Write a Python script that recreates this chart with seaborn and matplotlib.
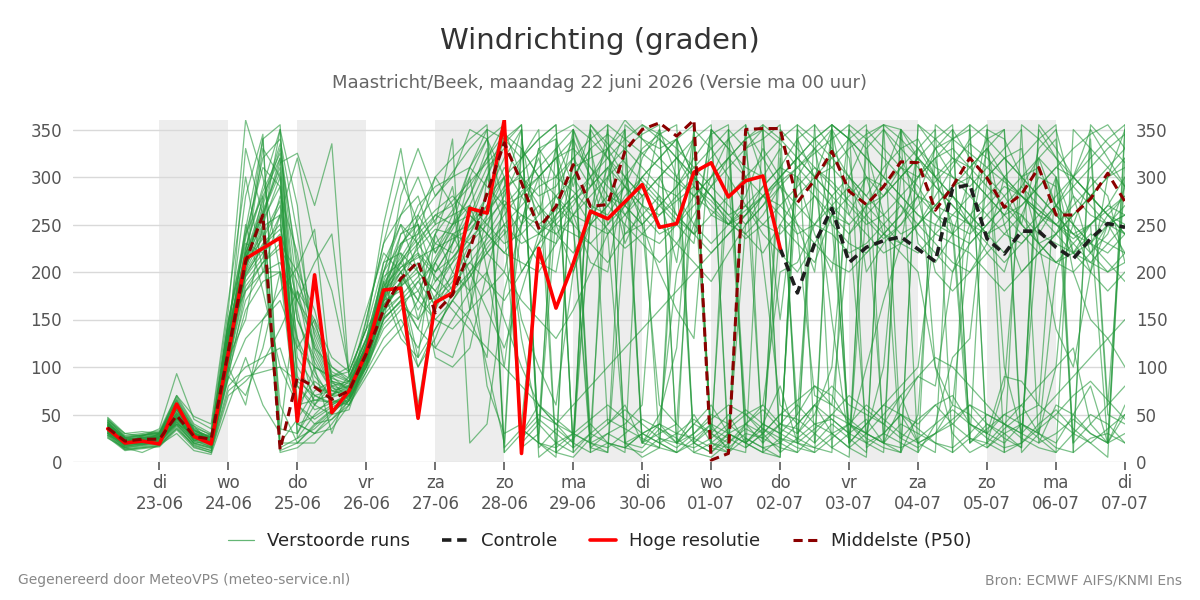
import matplotlib
matplotlib.use("Agg")
import matplotlib.pyplot as plt
from matplotlib.lines import Line2D
import numpy as np
import pandas as pd
import seaborn as sns

# 6-uurlijkse tijdstappen: 22-06 06:00 t/m 07-07 00:00
tijden = pd.date_range("2026-06-22 06:00", "2026-07-07 00:00", freq="6h")

hoge_resolutie = [
    35, 20, 22, 19, 61, 27, 19, 115, 214, 225,
    236, 43, 197, 52, 75, 115, 181, 183, 46, 168,
    178, 267, 262, 360, 9, 225, 162, 209, 264, 256,
    274, 292, 247, 251, 305, 315, 279, 296, 301, 225,
] + [np.nan] * 20

controle = [np.nan] * 39 + [
    225, 178, 230, 267, 210, 226, 233, 237, 224, 211,
    288, 292, 235, 219, 243, 243, 226, 214, 235, 251, 247,
]

middelste_p50 = [
    36, 22, 24, 24, 49, 27, 24, 117, 211, 260,
    13, 89, 79, 66, 75, 114, 160, 193, 211, 157,
    176, 223, 283, 336, 294, 246, 269, 313, 269, 271,
    327, 350, 357, 343, 360, 2, 9, 350, 351, 351,
    273, 297, 327, 285, 271, 290, 316, 315, 265, 290,
    320, 299, 268, 282, 310, 260, 260, 277, 304, 274,
]

verstoorde_runs = [
    [38, 22, 25, 28, 55, 30, 20, 125, 215, 250, 300, 60, 85, 70, 80, 120, 180, 200, 160, 190,
     215, 240, 270, 310, 280, 250, 265, 300, 270, 260, 290, 330, 345, 355, 10, 20, 15, 30, 25, 40,
     35, 20, 355, 340, 300, 280, 310, 290, 260, 250, 240, 260, 280, 300, 310, 270, 250, 230, 260, 280],
    [32, 18, 20, 22, 45, 25, 18, 110, 200, 230, 250, 150, 110, 75, 70, 110, 160, 190, 210, 170,
     190, 230, 250, 280, 320, 350, 10, 25, 40, 20, 15, 30, 20, 10, 350, 330, 300, 270, 250, 240,
     260, 280, 250, 230, 220, 240, 260, 300, 330, 350, 20, 40, 30, 15, 350, 320, 290, 270, 250, 240],
    [42, 25, 28, 30, 65, 35, 25, 140, 280, 345, 20, 20, 40, 55, 65, 100, 150, 170, 140, 200,
     230, 260, 300, 350, 15, 30, 260, 280, 250, 240, 270, 300, 320, 340, 300, 280, 250, 260, 290, 310,
     340, 355, 15, 30, 45, 20, 350, 320, 290, 270, 250, 240, 260, 290, 320, 340, 10, 25, 30, 20],
    [30, 15, 18, 20, 40, 20, 15, 90, 180, 210, 230, 200, 160, 90, 75, 100, 140, 160, 190, 210,
     180, 200, 230, 250, 230, 240, 260, 280, 300, 330, 350, 20, 40, 30, 25, 15, 10, 350, 320, 290,
     270, 250, 240, 220, 230, 250, 270, 240, 220, 200, 230, 250, 270, 260, 240, 230, 220, 210, 230, 250],
    [36, 20, 24, 26, 50, 28, 22, 120, 220, 260, 320, 30, 60, 80, 85, 130, 200, 230, 250, 220,
     250, 280, 330, 10, 30, 50, 40, 20, 350, 320, 290, 260, 240, 250, 270, 290, 310, 330, 340, 355,
     20, 35, 50, 40, 25, 15, 10, 355, 330, 300, 280, 260, 240, 230, 250, 270, 290, 310, 330, 345],
    [34, 19, 21, 23, 48, 26, 20, 115, 195, 220, 240, 100, 70, 60, 70, 105, 170, 210, 180, 150,
     170, 200, 220, 240, 260, 250, 240, 260, 280, 300, 260, 240, 230, 250, 280, 300, 320, 300, 280, 260,
     240, 250, 270, 290, 260, 240, 230, 250, 270, 290, 310, 330, 300, 280, 260, 240, 220, 230, 250, 270],
    [40, 24, 26, 28, 60, 32, 26, 135, 210, 270, 330, 180, 95, 65, 60, 95, 130, 150, 120, 160,
     200, 240, 280, 320, 350, 5, 20, 10, 355, 330, 300, 280, 20, 30, 45, 30, 20, 40, 55, 35,
     25, 15, 30, 40, 60, 45, 30, 20, 10, 350, 320, 300, 280, 250, 230, 210, 220, 240, 230, 220],
    [28, 14, 16, 18, 35, 18, 12, 80, 100, 110, 120, 60, 40, 45, 60, 90, 120, 140, 170, 150,
     140, 160, 180, 200, 170, 150, 130, 160, 200, 240, 260, 280, 300, 320, 290, 270, 250, 240, 260, 290,
     310, 330, 350, 20, 40, 60, 50, 35, 20, 10, 355, 340, 320, 300, 280, 260, 240, 220, 200, 210],
    [37, 21, 23, 25, 52, 29, 21, 118, 205, 245, 20, 45, 75, 85, 80, 115, 175, 220, 200, 180,
     210, 230, 260, 290, 300, 280, 290, 320, 340, 355, 15, 10, 25, 20, 30, 50, 40, 25, 15, 20,
     40, 60, 45, 30, 20, 10, 350, 330, 310, 300, 290, 310, 330, 350, 20, 30, 45, 30, 20, 355],
    [33, 17, 19, 21, 44, 24, 17, 105, 190, 215, 280, 220, 120, 80, 75, 115, 165, 185, 230, 250,
     260, 270, 250, 230, 240, 260, 280, 300, 330, 345, 330, 310, 290, 280, 300, 320, 340, 355, 10, 25,
     20, 15, 10, 355, 340, 320, 300, 280, 270, 260, 250, 270, 290, 280, 260, 250, 240, 250, 270, 300],
    [46, 28, 30, 33, 70, 40, 30, 150, 240, 280, 10, 15, 30, 50, 70, 110, 170, 180, 100, 130,
     180, 220, 240, 270, 290, 310, 330, 350, 15, 30, 20, 15, 35, 25, 10, 5, 20, 35, 25, 15,
     10, 30, 50, 70, 55, 40, 25, 15, 30, 45, 60, 40, 25, 15, 355, 330, 300, 280, 260, 240],
    [35, 20, 22, 24, 47, 27, 21, 112, 210, 235, 270, 130, 90, 70, 72, 108, 155, 175, 195, 230,
     250, 260, 240, 220, 250, 270, 240, 220, 250, 270, 290, 270, 260, 280, 250, 230, 250, 270, 240, 220,
     200, 230, 260, 280, 300, 290, 270, 250, 230, 210, 200, 220, 240, 260, 230, 210, 200, 220, 250, 260],
    [31, 16, 18, 20, 42, 23, 16, 100, 170, 200, 210, 170, 140, 95, 85, 120, 190, 240, 260, 230,
     220, 250, 300, 340, 355, 20, 5, 350, 310, 280, 270, 250, 270, 290, 310, 330, 350, 15, 30, 50,
     45, 30, 15, 5, 350, 330, 310, 300, 320, 340, 355, 15, 30, 40, 25, 10, 350, 330, 310, 290],
    [39, 23, 25, 27, 58, 31, 24, 130, 225, 290, 350, 80, 55, 62, 68, 100, 145, 165, 150, 175,
     195, 210, 190, 170, 200, 230, 250, 240, 230, 250, 280, 300, 320, 340, 355, 15, 30, 20, 10, 350,
     330, 310, 290, 270, 250, 260, 280, 300, 320, 330, 310, 290, 270, 250, 230, 240, 260, 280, 300, 320],
    [44, 27, 29, 31, 68, 38, 28, 145, 235, 320, 340, 240, 130, 85, 78, 125, 185, 205, 220, 200,
     230, 270, 310, 330, 300, 270, 250, 270, 300, 320, 340, 355, 345, 330, 310, 290, 270, 250, 270, 300,
     320, 340, 355, 340, 320, 300, 280, 260, 240, 230, 220, 200, 180, 200, 220, 240, 260, 280, 300, 310],
    [29, 13, 15, 17, 38, 16, 10, 95, 160, 190, 200, 40, 30, 45, 65, 105, 160, 175, 140, 120,
     150, 180, 200, 150, 100, 60, 40, 30, 20, 15, 30, 45, 35, 20, 15, 25, 40, 55, 40, 30,
     20, 10, 355, 340, 320, 300, 280, 260, 250, 240, 260, 280, 300, 320, 340, 355, 20, 40, 60, 80],
    [41, 25, 27, 29, 62, 33, 27, 138, 220, 265, 310, 150, 105, 75, 70, 118, 178, 210, 240, 260,
     270, 290, 320, 345, 330, 300, 280, 260, 250, 270, 300, 325, 340, 320, 300, 280, 260, 240, 220, 250,
     280, 300, 320, 340, 355, 20, 40, 30, 20, 15, 30, 50, 40, 25, 15, 10, 30, 50, 40, 20],
    [33, 18, 20, 22, 46, 25, 19, 108, 198, 225, 15, 25, 50, 68, 74, 112, 168, 200, 225, 245,
     240, 250, 270, 300, 320, 340, 355, 10, 30, 45, 35, 25, 15, 10, 25, 40, 30, 20, 10, 5,
     355, 340, 320, 300, 280, 260, 240, 250, 270, 290, 300, 280, 260, 240, 220, 210, 230, 250, 270, 260],
    [37, 22, 24, 26, 54, 30, 23, 122, 212, 255, 290, 110, 80, 72, 76, 116, 172, 195, 170, 210,
     240, 200, 160, 120, 180, 240, 270, 250, 230, 210, 240, 260, 280, 260, 240, 220, 240, 260, 280, 300,
     320, 300, 280, 260, 240, 220, 230, 250, 280, 310, 340, 355, 10, 20, 40, 55, 35, 20, 5, 350],
    [26, 12, 14, 16, 34, 15, 10, 70, 85, 105, 140, 180, 150, 110, 95, 140, 210, 250, 230, 200,
     215, 235, 255, 275, 260, 240, 255, 275, 290, 310, 330, 345, 355, 20, 40, 30, 15, 10, 355, 340,
     320, 300, 310, 330, 345, 355, 25, 45, 60, 40, 25, 15, 35, 50, 60, 45, 30, 20, 35, 50],
    [38, 21, 23, 25, 51, 28, 22, 116, 208, 248, 260, 60, 45, 58, 66, 102, 150, 170, 190, 165,
     185, 210, 235, 260, 285, 300, 320, 340, 300, 270, 250, 230, 210, 230, 260, 290, 320, 340, 355, 10,
     25, 40, 30, 15, 5, 355, 340, 320, 300, 280, 260, 240, 250, 270, 290, 310, 330, 345, 355, 330],
    [45, 26, 28, 30, 66, 36, 29, 148, 245, 340, 355, 25, 35, 52, 67, 106, 162, 185, 205, 240,
     265, 300, 340, 355, 30, 60, 45, 30, 20, 10, 355, 340, 320, 300, 280, 300, 320, 340, 350, 335,
     310, 290, 270, 250, 270, 290, 310, 330, 350, 10, 25, 20, 10, 355, 340, 320, 300, 280, 260, 250],
    [32, 17, 19, 21, 43, 22, 16, 102, 185, 210, 225, 190, 145, 100, 88, 128, 188, 215, 245, 265,
     280, 260, 240, 220, 210, 200, 230, 260, 290, 310, 290, 270, 250, 230, 210, 190, 220, 250, 280, 270,
     250, 230, 210, 200, 220, 240, 260, 280, 260, 240, 230, 250, 270, 290, 270, 250, 230, 210, 200, 220],
    [36, 20, 23, 25, 49, 27, 20, 114, 202, 238, 275, 90, 65, 63, 69, 104, 158, 188, 260, 300,
     320, 340, 355, 15, 35, 20, 10, 5, 25, 40, 55, 40, 25, 15, 30, 45, 60, 50, 35, 20,
     10, 355, 330, 300, 270, 250, 230, 220, 240, 260, 280, 300, 320, 300, 280, 260, 240, 230, 220, 240],
    [43, 26, 28, 31, 64, 34, 26, 132, 218, 275, 335, 200, 115, 78, 73, 122, 182, 225, 270, 290,
     300, 310, 290, 270, 280, 300, 320, 330, 310, 290, 270, 250, 270, 290, 320, 345, 355, 20, 35, 25,
     15, 10, 25, 40, 30, 20, 10, 355, 340, 320, 300, 280, 260, 270, 290, 310, 300, 280, 260, 240],
    [30, 15, 17, 19, 39, 19, 14, 88, 130, 150, 170, 120, 100, 88, 82, 118, 176, 205, 215, 225,
     235, 245, 265, 285, 305, 325, 345, 355, 340, 320, 300, 280, 300, 320, 340, 355, 10, 25, 15, 5,
     350, 330, 310, 290, 270, 280, 300, 320, 340, 355, 20, 35, 50, 40, 30, 15, 10, 355, 335, 315],
    [40, 23, 25, 27, 57, 31, 23, 128, 214, 262, 305, 40, 48, 60, 70, 110, 166, 190, 110, 140,
     170, 195, 225, 250, 270, 290, 300, 285, 265, 245, 225, 240, 260, 275, 290, 275, 255, 235, 250, 270,
     290, 310, 295, 275, 255, 235, 250, 270, 295, 315, 335, 320, 300, 280, 265, 250, 270, 290, 310, 330],
    [34, 19, 22, 24, 47, 26, 19, 110, 196, 228, 245, 170, 125, 83, 77, 114, 174, 200, 218, 195,
     175, 195, 220, 245, 35, 20, 15, 30, 45, 60, 45, 30, 20, 10, 20, 35, 25, 15, 30, 50,
     65, 80, 60, 45, 30, 20, 15, 25, 40, 55, 40, 25, 15, 20, 35, 50, 70, 85, 65, 45],
    [42, 24, 26, 29, 61, 33, 25, 136, 225, 285, 325, 210, 135, 92, 84, 124, 184, 228, 255, 280,
     305, 330, 350, 340, 320, 340, 355, 15, 30, 20, 10, 355, 340, 320, 300, 280, 260, 270, 290, 310,
     300, 280, 260, 240, 260, 280, 300, 320, 300, 280, 260, 240, 220, 240, 260, 280, 300, 320, 340, 355],
    [35, 20, 21, 23, 46, 26, 21, 113, 207, 242, 12, 20, 38, 54, 64, 103, 152, 168, 180, 215,
     245, 280, 320, 355, 25, 45, 30, 15, 355, 335, 315, 295, 275, 255, 240, 260, 280, 300, 320, 340,
     355, 20, 40, 25, 10, 350, 330, 310, 290, 270, 250, 230, 210, 230, 250, 270, 250, 230, 210, 190],
    [27, 13, 15, 17, 36, 17, 12, 75, 90, 95, 100, 85, 70, 62, 72, 110, 165, 185, 200, 180,
     160, 140, 120, 100, 80, 60, 40, 60, 80, 100, 120, 140, 160, 180, 200, 220, 240, 260, 280, 300,
     320, 340, 355, 15, 30, 50, 70, 90, 110, 100, 80, 60, 40, 30, 50, 70, 90, 110, 130, 150],
    [39, 22, 24, 26, 56, 30, 22, 124, 216, 258, 315, 325, 270, 335, 90, 121, 180, 212, 235, 255,
     275, 295, 315, 335, 355, 15, 35, 20, 10, 355, 340, 325, 310, 295, 280, 265, 250, 265, 280, 295,
     310, 325, 340, 355, 15, 30, 20, 10, 355, 340, 325, 310, 295, 280, 265, 250, 235, 250, 265, 280],
    [47, 30, 27, 35, 93, 45, 35, 160, 360, 300, 200, 170, 210, 240, 90, 130, 200, 260, 300, 250,
     340, 20, 40, 180, 250, 300, 10, 350, 30, 300, 320, 20, 50, 120, 340, 30, 300, 40, 20, 320,
     50, 300, 150, 20, 330, 260, 10, 50, 320, 240, 20, 350, 100, 30, 250, 300, 20, 340, 60, 300],
    [25, 15, 10, 18, 30, 12, 8, 60, 110, 60, 30, 180, 120, 100, 85, 150, 230, 300, 250, 120,
     110, 160, 300, 250, 150, 100, 60, 200, 260, 350, 20, 5, 15, 340, 300, 20, 35, 50, 30, 250,
     230, 210, 260, 250, 30, 20, 60, 90, 80, 200, 250, 350, 340, 300, 230, 140, 100, 200, 250, 220],
    [44, 30, 32, 30, 70, 48, 40, 170, 300, 200, 260, 320, 230, 180, 95, 140, 250, 330, 220, 160,
     230, 300, 200, 100, 250, 330, 300, 340, 15, 10, 250, 320, 350, 300, 20, 40, 10, 330, 210, 60,
     40, 60, 30, 15, 270, 300, 350, 10, 40, 110, 130, 300, 320, 330, 240, 270, 300, 350, 320, 290],
    [33, 18, 24, 22, 40, 20, 22, 100, 60, 150, 180, 205, 245, 80, 60, 100, 180, 130, 110, 240,
     200, 180, 260, 300, 200, 230, 280, 250, 20, 30, 40, 60, 300, 260, 240, 350, 330, 50, 60, 40,
     30, 60, 80, 60, 50, 40, 70, 20, 30, 40, 60, 50, 40, 30, 20, 60, 50, 80, 20, 30],
    [38, 25, 20, 28, 58, 22, 28, 130, 240, 310, 290, 50, 100, 90, 100, 160, 220, 200, 170, 240,
     290, 180, 100, 20, 340, 240, 230, 310, 320, 330, 360, 340, 330, 340, 20, 10, 25, 355, 300, 330,
     30, 50, 100, 300, 280, 310, 330, 340, 300, 320, 310, 330, 250, 200, 220, 240, 280, 260, 250, 260],
    [36, 22, 18, 25, 55, 27, 20, 140, 180, 200, 200, 130, 60, 50, 55, 110, 160, 190, 60, 170,
     240, 230, 80, 30, 40, 220, 260, 350, 300, 240, 20, 30, 40, 200, 250, 300, 340, 300, 20, 40,
     60, 40, 45, 30, 100, 170, 230, 330, 300, 250, 40, 30, 50, 60, 80, 100, 300, 330, 50, 40],
    [28, 20, 24, 19, 45, 38, 18, 120, 250, 180, 100, 60, 65, 70, 90, 130, 170, 280, 330, 280,
     300, 350, 340, 270, 240, 210, 200, 300, 330, 250, 270, 300, 280, 210, 350, 20, 10, 40, 30, 10,
     340, 300, 280, 300, 340, 355, 350, 230, 210, 240, 300, 340, 350, 10, 30, 200, 250, 300, 280, 210],
    [40, 26, 22, 30, 50, 30, 25, 125, 330, 260, 60, 20, 20, 40, 65, 95, 150, 230, 240, 300,
     270, 160, 240, 350, 300, 260, 330, 260, 210, 200, 300, 250, 200, 160, 130, 350, 330, 310, 300, 150,
     300, 240, 200, 350, 330, 350, 320, 280, 200, 180, 200, 230, 300, 250, 330, 350, 280, 220, 240, 290],
    [30, 22, 20, 26, 40, 30, 20, 110, 150, 250, 350, 270, 100, 30, 80, 120, 200, 250, 200, 110,
     100, 120, 200, 270, 130, 40, 20, 30, 260, 310, 230, 270, 350, 20, 40, 60, 30, 20, 40, 80,
     20, 300, 350, 260, 300, 240, 220, 200, 100, 30, 10, 20, 40, 60, 30, 100, 120, 40, 20, 60],
    [35, 18, 28, 32, 48, 22, 30, 145, 210, 330, 300, 120, 150, 85, 65, 150, 230, 260, 280, 220,
     260, 310, 350, 10, 330, 300, 320, 250, 10, 20, 15, 30, 40, 20, 50, 20, 350, 330, 350, 20,
     300, 330, 250, 40, 20, 30, 50, 20, 30, 60, 50, 30, 20, 40, 30, 20, 50, 30, 20, 320],
    [42, 20, 26, 24, 52, 34, 22, 90, 70, 120, 200, 80, 60, 90, 95, 140, 170, 240, 250, 190,
     210, 250, 280, 300, 250, 330, 340, 290, 350, 40, 60, 20, 15, 300, 340, 30, 50, 20, 40, 30,
     50, 80, 70, 40, 30, 100, 300, 320, 100, 60, 240, 330, 350, 20, 320, 300, 220, 200, 300, 350],
    [34, 24, 20, 30, 60, 24, 26, 150, 230, 220, 260, 40, 30, 35, 60, 110, 210, 220, 150, 210,
     250, 270, 220, 200, 280, 320, 250, 200, 250, 300, 350, 20, 30, 40, 300, 260, 250, 280, 330, 300,
     250, 200, 350, 320, 200, 230, 250, 280, 330, 340, 350, 20, 80, 300, 320, 270, 220, 250, 20, 50],
    [38, 20, 22, 26, 46, 28, 24, 120, 200, 280, 320, 160, 80, 70, 85, 115, 190, 140, 100, 140,
     170, 150, 110, 290, 350, 20, 340, 15, 260, 280, 260, 290, 270, 250, 230, 350, 20, 250, 270, 290,
     240, 70, 60, 240, 270, 30, 50, 40, 60, 70, 40, 30, 90, 85, 60, 300, 250, 200, 180, 200],
    [31, 16, 20, 21, 42, 20, 15, 95, 220, 340, 35, 30, 70, 75, 80, 125, 195, 210, 230, 260,
     250, 310, 340, 300, 20, 40, 300, 320, 290, 330, 240, 250, 60, 40, 20, 10, 30, 40, 60, 200,
     210, 250, 280, 20, 40, 60, 80, 100, 250, 280, 250, 220, 200, 260, 300, 290, 200, 150, 130, 100],
]

dag_namen = ["di", "wo", "do", "vr", "za", "zo", "ma", "di",
             "wo", "do", "vr", "za", "zo", "ma", "di"]
dag_ticks = pd.date_range("2026-06-23", "2026-07-07", freq="D")

# long-form tabel voor seaborn
runs_df = pd.DataFrame(
    [(r, t, v) for r, run in enumerate(verstoorde_runs) for t, v in zip(tijden, run)],
    columns=["run", "tijd", "richting"],
)
lijnen_df = pd.DataFrame({
    "tijd": tijden,
    "hoge_resolutie": hoge_resolutie,
    "controle": controle,
    "middelste": middelste_p50,
})

sns.set_theme(style="white")
plt.rcParams["font.family"] = ["DejaVu Sans"]

fig = plt.figure(figsize=(12, 6), dpi=100)
ax = fig.add_axes([0.061, 0.23, 0.8765, 0.57])

# afwisselende dagen grijs
for dag in pd.date_range("2026-06-23", "2026-07-06", freq="2D"):
    ax.axvspan(dag, dag + pd.Timedelta(days=1), color="#ededed", lw=0, zorder=0)

groen = "#23983a"
sns.lineplot(data=runs_df, x="tijd", y="richting", units="run", estimator=None,
             color=groen, lw=0.9, alpha=0.6, legend=False, ax=ax, zorder=2)
sns.lineplot(data=lijnen_df, x="tijd", y="controle", color="#1e1e1e", lw=2.6,
             ax=ax, zorder=3).lines[-1].set_dashes((2.6, 1.6))
sns.lineplot(data=lijnen_df, x="tijd", y="hoge_resolutie", color="#ff0000", lw=2.6,
             ax=ax, zorder=4)
sns.lineplot(data=lijnen_df, x="tijd", y="middelste", color="#8b0000", lw=2.2,
             ax=ax, zorder=5).lines[-1].set_dashes((3, 1.8))

ax.set_xlim(pd.Timestamp("2026-06-21 18:00"), pd.Timestamp("2026-07-07 00:00"))
ax.set_ylim(0, 360)
ax.set_yticks(range(0, 351, 50))
ax.set_xticks(dag_ticks)
ax.set_xticklabels([f"{n}\n{d:%d-%m}" for n, d in zip(dag_namen, dag_ticks)])
ax.set_xlabel("")
ax.set_ylabel("")
ax.grid(axis="y", color="#d9d9d9", lw=1)
ax.set_axisbelow(True)
for s in ax.spines.values():
    s.set_visible(False)
ax.tick_params(axis="x", length=6, width=1.3, color="#666666", labelcolor="#555555",
               labelsize=12, pad=3, bottom=True)
ax.tick_params(axis="y", length=0, labelsize=12, labelcolor="#555555",
               labelleft=True, labelright=True, pad=8)

fig.text(0.5, 1 - 41 / 600, "Windrichting (graden)", ha="center", va="center",
         fontsize=21, color="#333333")
fig.text(0.5, 1 - 83 / 600, "Maastricht/Beek, maandag 22 juni 2026 (Versie ma 00 uur)",
         ha="center", va="center", fontsize=13, color="#666666")

handles = [
    Line2D([], [], color=groen, lw=0.9, alpha=0.7),
    Line2D([], [], color="#1e1e1e", lw=2.6, dashes=(2.6, 1.6)),
    Line2D([], [], color="#ff0000", lw=2.6),
    Line2D([], [], color="#8b0000", lw=2.2, dashes=(3, 1.8)),
]
labels = ["Verstoorde runs", "Controle", "Hoge resolutie", "Middelste (P50)"]
fig.legend(handles, labels, loc="center", bbox_to_anchor=(0.5, 1 - 541 / 600), ncol=4,
           frameon=False, fontsize=13, handlelength=1.45, handletextpad=0.7,
           columnspacing=1.8)

fig.text(0.015, 1 - 580 / 600, "Gegenereerd door MeteoVPS (meteo-service.nl)",
         ha="left", va="center", fontsize=10, color="#888888")
fig.text(0.985, 1 - 580 / 600, "Bron: ECMWF AIFS/KNMI Ens",
         ha="right", va="center", fontsize=10, color="#888888")

fig.savefig("out.png", dpi=100)
